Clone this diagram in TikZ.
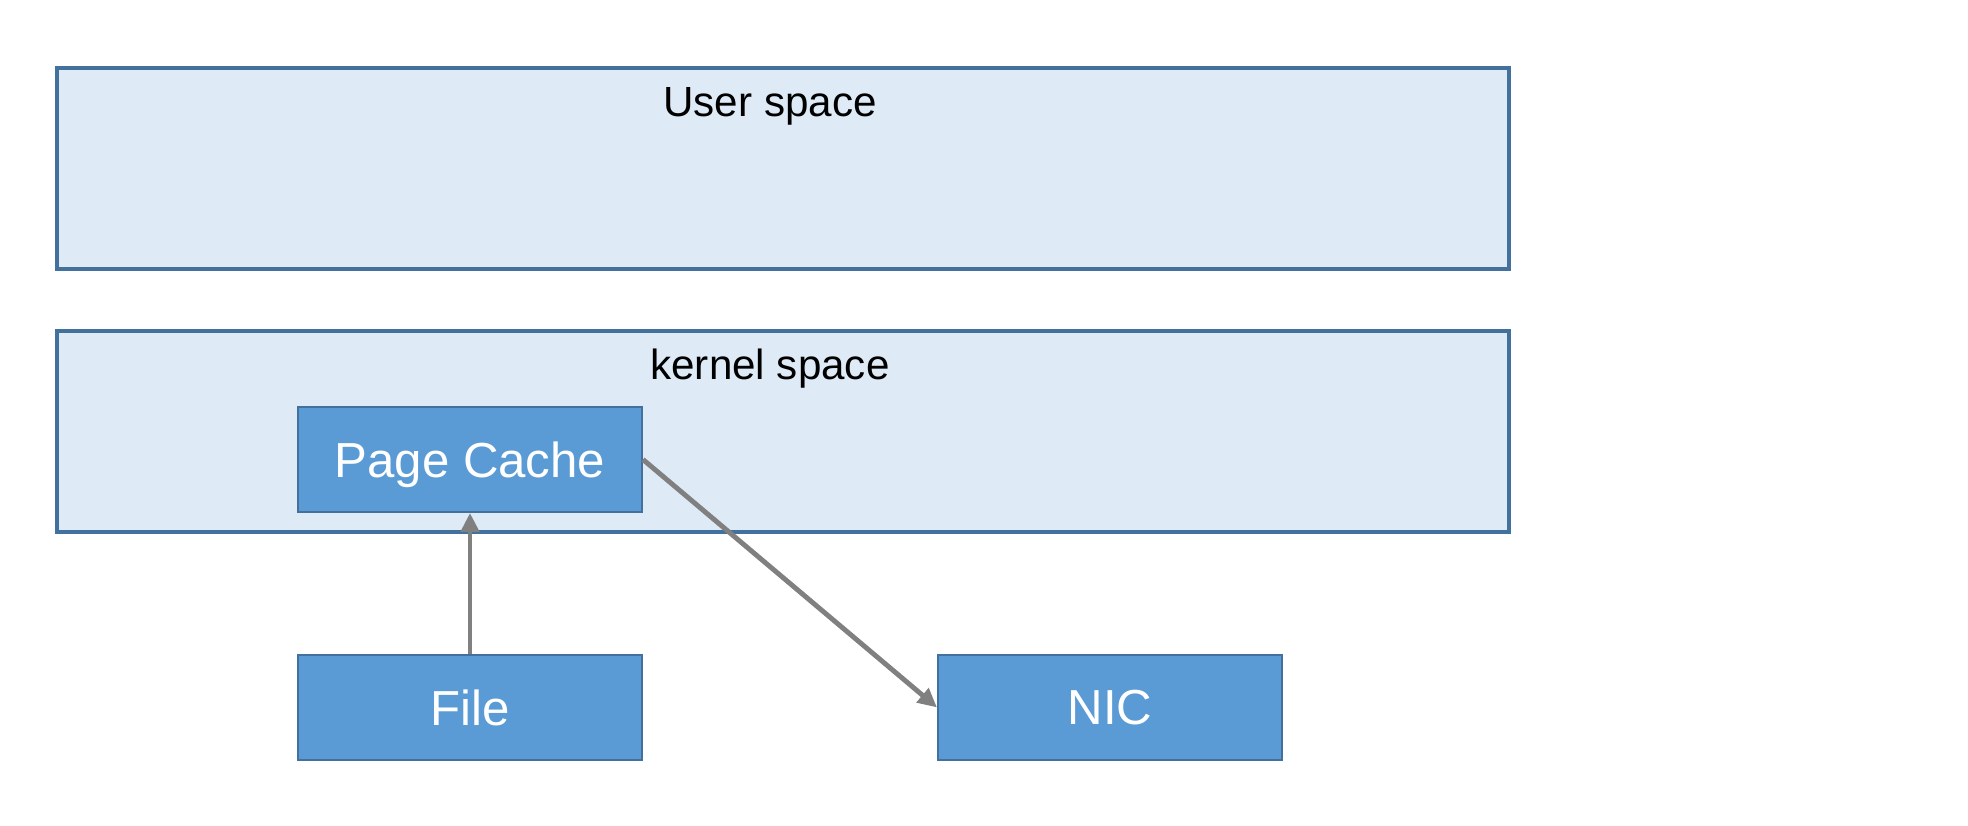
\documentclass[tikz,border=0pt]{standalone}
\usepackage{fontspec}
\setmainfont{Liberation Sans}
\usetikzlibrary{positioning,arrows.meta}
\definecolor{spacefill}{HTML}{DEEBF7}
\definecolor{spaceline}{HTML}{41719C}
\definecolor{blockfill}{HTML}{5B9BD5}
\definecolor{flowgray}{HTML}{808080}

\begin{document}
\begin{tikzpicture}[
  space/.style={draw=spaceline, fill=spacefill, line width=1.8pt, rectangle, minimum width=29.04cm, minimum height=4.02cm, inner sep=0pt},
  spacelabel/.style={anchor=base, font=\fontsize{24}{28}\selectfont},
  block/.style={draw=spaceline, fill=blockfill, line width=1.1pt, rectangle, minimum width=6.88cm, minimum height=2.10cm, inner sep=0pt, text depth=0pt, text=white, font=\fontsize{28}{32}\selectfont},
  flow/.style={-{Triangle[length=0.38cm, width=0.36cm]}, draw=flowgray, line width=2.8pt}
]
  \useasboundingbox (0,0) rectangle (39.36,-16.52);
  \node (user) [space] at (15.66,-3.37) {};
  \node (kernel) [space] at (15.66,-8.63) {};
  \node (userlabel) [spacelabel] at (15.4,-2.34) {User space};
  \node (kernellabel) [spacelabel] at (15.4,-7.60) {kernel space};
  \node (cache) [block] at (9.40,-9.19) {Page Cache};
  \node (file) [block, below=2.82cm of cache] {File};
  \node (nic) [block, right=5.88cm of file] {NIC};

  \draw[flow] (file) -- (cache);
  \draw[flow] (cache.east) -- (nic.west);
\end{tikzpicture}
\end{document}
